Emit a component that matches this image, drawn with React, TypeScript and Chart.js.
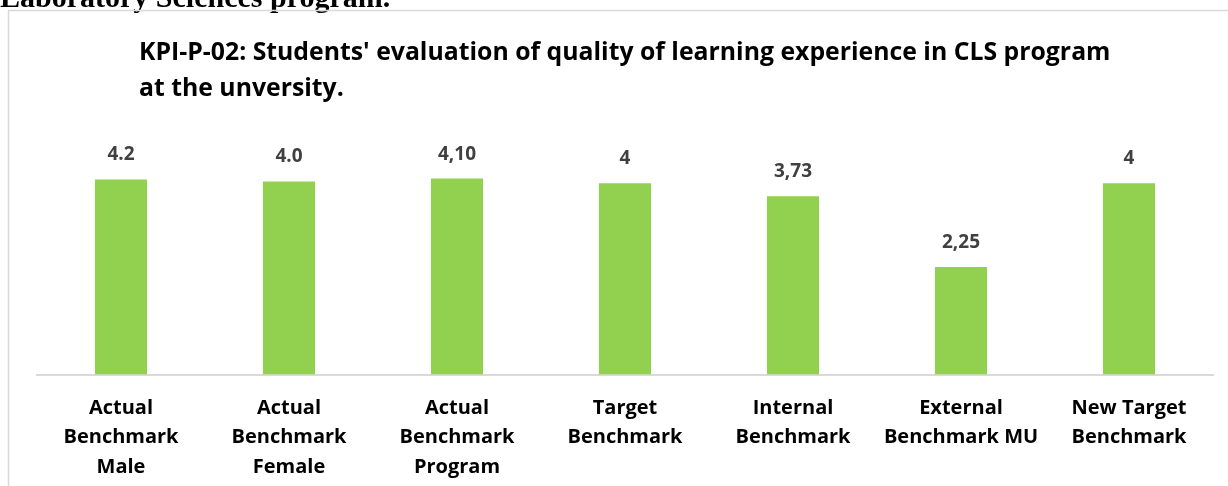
import React, { useEffect, useRef } from "react";
import { Chart, registerables } from "chart.js";

Chart.register(...registerables);

const categories: string[][] = [
  ["Actual", "Benchmark", "Male"],
  ["Actual", "Benchmark", "Female"],
  ["Actual", "Benchmark", "Program"],
  ["Target", "Benchmark"],
  ["Internal", "Benchmark"],
  ["External", "Benchmark MU"],
  ["New Target", "Benchmark"],
];
const values: number[] = [4.08, 4.04, 4.1, 4, 3.73, 2.25, 4];
const valueLabels: string[] = ["4.2", "4.0", "4,10", "4", "3,73", "2,25", "4"];
const titleLines: string[] = [
  "KPI-P-02: Students' evaluation of quality of learning experience in CLS program",
  "at the unversity.",
];
const headingText = "Laboratory Sciences program.";

const W = 1228;
const H = 486;
const FONT = "'Open Sans', 'Noto Sans', sans-serif";

export default function App() {
  const ref = useRef<HTMLCanvasElement | null>(null);

  useEffect(() => {
    document.body.style.margin = "0";
    const canvas = ref.current;
    if (!canvas) return;

    const decor = {
      id: "decor",
      beforeDraw(chart: any) {
        const ctx = chart.ctx;
        ctx.save();
        ctx.fillStyle = "#ffffff";
        ctx.fillRect(0, 0, W, H);
        // cropped heading above chart box
        ctx.fillStyle = "#000000";
        ctx.font = "bold 30px 'Liberation Serif', 'Times New Roman', serif";
        ctx.textAlign = "left";
        ctx.textBaseline = "alphabetic";
        ctx.fillText(headingText, 0, 7);
        // chart box border
        ctx.strokeStyle = "#d9d9d9";
        ctx.lineWidth = 1.5;
        ctx.beginPath();
        ctx.moveTo(8.5, H);
        ctx.lineTo(8.5, 10.5);
        ctx.lineTo(W, 10.5);
        ctx.stroke();
        // title
        ctx.fillStyle = "#000000";
        ctx.font = `bold 24.8px ${FONT}`;
        ctx.fillText(titleLines[0], 139, 60);
        ctx.fillText(titleLines[1], 139, 96);
        ctx.restore();
      },
      afterDatasetsDraw(chart: any) {
        const ctx = chart.ctx;
        const meta = chart.getDatasetMeta(0);
        ctx.save();
        ctx.fillStyle = "#404040";
        ctx.font = `bold 19px ${FONT}`;
        ctx.textAlign = "center";
        ctx.textBaseline = "alphabetic";
        meta.data.forEach((bar: any, i: number) => {
          ctx.fillText(valueLabels[i], bar.x, bar.y - 19);
        });
        ctx.restore();
      },
    };

    const chart = new Chart(canvas, {
      type: "bar",
      data: {
        labels: categories,
        datasets: [
          {
            data: values,
            backgroundColor: "#92D050",
            borderWidth: 0,
            barPercentage: 0.31,
            categoryPercentage: 1,
          },
        ],
      },
      options: {
        responsive: false,
        animation: false,
        devicePixelRatio: 1,
        layout: { padding: { left: 37, right: 15, top: 135.5, bottom: 0 } },
        plugins: {
          legend: { display: false },
          title: { display: false },
          tooltip: { enabled: false },
        },
        scales: {
          x: {
            grid: { display: false, drawTicks: false },
            border: { display: true, color: "#d9d9d9", width: 2 },
            ticks: {
              color: "#000000",
              font: { family: FONT, size: 20, weight: "bold", lineHeight: 1.475 },
              padding: 19,
              maxRotation: 0,
              autoSkip: false,
            },
            afterFit(axis: any) {
              axis.height = H - 374.5;
            },
          },
          y: {
            display: false,
            min: 0,
            max: 5,
          },
        },
      },
      plugins: [decor],
    } as any);

    return () => chart.destroy();
  }, []);

  return (
    <div style={{ position: "absolute", left: 0, top: 0, width: W, height: H }}>
      <canvas ref={ref} width={W} height={H} />
    </div>
  );
}
